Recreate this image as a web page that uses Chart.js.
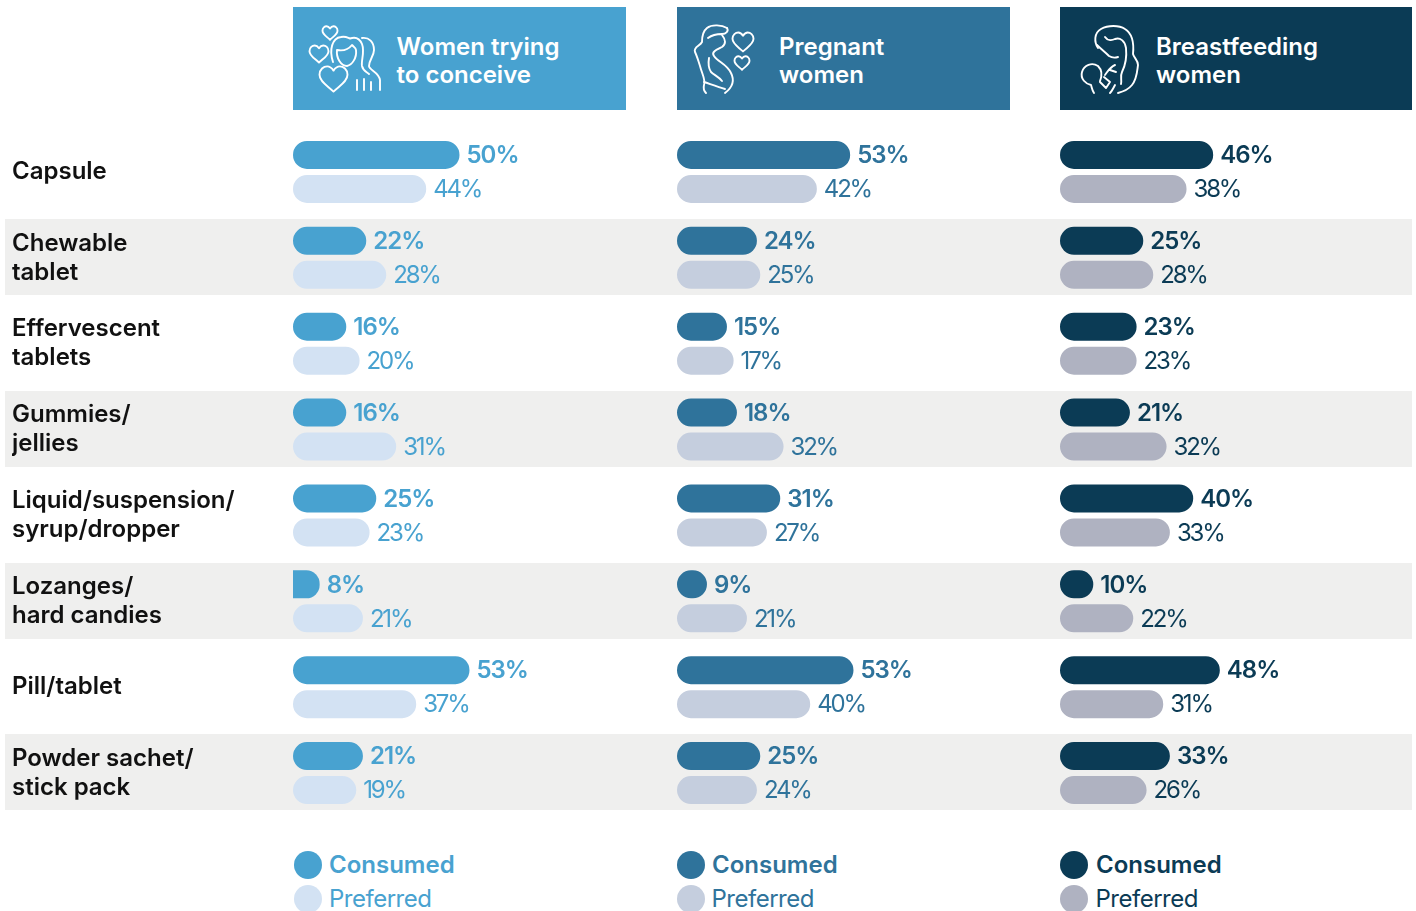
<!DOCTYPE html>
<html>
<head>
<meta charset="utf-8">
<script src="https://cdn.jsdelivr.net/npm/chart.js@4"></script>
<style>
  html, body { margin: 0; padding: 0; background: #fff; }
  body { position: relative; width: 1416px; height: 911px; overflow: hidden; font-family: Inter, sans-serif; }
  .band { position: absolute; left: 5px; width: 1407px; height: 76px; background: #efefee; }
  .head { position: absolute; top: 7px; height: 103px; }
  .head span { position: absolute; top: 26px; color: #fff; font-size: 24px; font-weight: 600; line-height: 28px; white-space: pre; }
  canvas { position: absolute; top: 129px; }
  .dot { position: absolute; width: 28px; height: 28px; border-radius: 50%; }
  .leg { position: absolute; font-size: 24px; line-height: 30px; white-space: nowrap; }
  .leg.pref { letter-spacing: -0.5px; }
  #icons { position: absolute; left: 0; top: 0; }
  #icons path { fill: none; stroke: #fff; stroke-width: 1.9; stroke-linecap: round; stroke-linejoin: round; vector-effect: non-scaling-stroke; }
</style>
</head>
<body>
<div class="band" style="top:219px"></div>
<div class="band" style="top:391px"></div>
<div class="band" style="top:563px"></div>
<div class="band" style="top:734px"></div>

<div class="head" style="left:293px;width:333px;background:#48a2d0"><span style="left:103.5px">Women trying
to conceive</span></div>
<div class="head" style="left:677px;width:333px;background:#2f739b"><span style="left:102px">Pregnant
women</span></div>
<div class="head" style="left:1060px;width:352px;background:#0b3b55"><span style="left:96px">Breastfeeding
women</span></div>

<svg id="icons" width="1416" height="120">
  <!-- women trying to conceive -->
  <path transform="translate(330 33) scale(.75)" d="M0 9C-4 5-10 2-10-3C-10-7-7-9-4.5-9C-2-9-1-7.5 0-6C1-7.5 2-9 4.5-9C7-9 10-7 10-3C10 2 4 5 0 9Z"/>
  <path transform="translate(319 54) scale(.95)" d="M0 9C-4 5-10 2-10-3C-10-7-7-9-4.5-9C-2-9-1-7.5 0-6C1-7.5 2-9 4.5-9C7-9 10-7 10-3C10 2 4 5 0 9Z"/>
  <path transform="translate(333.5 79) scale(1.4)" d="M0 9C-4 5-10 2-10-3C-10-7-7-9-4.5-9C-2-9-1-7.5 0-6C1-7.5 2-9 4.5-9C7-9 10-7 10-3C10 2 4 5 0 9Z"/>
  <path d="M333 62C329 50 332 38 341 37C346 36 348 38 350 38.5C354 37 359 37 362 44C365 52 361 60 362 66C363 71 367 72 369 74"/>
  <path d="M337 50C342 51 348 50 352 45C354 47 356 48 356 50C357 58 352 65 347 66C341 66 336 58 337 50"/>
  <path d="M362 38C369 37 374 42 374 50C374 56 369 60 369 66C369 70 379 72 380 80L380 90"/>
  <path d="M357 80V90M364 79V90M371 82V90"/>
  <!-- pregnant -->
  <path d="M727 28C722 25 712 24 707 28C702 32 702 38 702 42C700 46 693 47 695 52C697 56 698 60 700 66C702 74 706 80 704 85C703 89 704 91 706 93"/>
  <path d="M727 28C729 31 726 34 722 34C717 34 712 35 708 38M722 35C726 40 726 44 722 47C716 50 711 52 714 56C718 62 727 64 731 73C735 81 733 87 725 93"/>
  <path d="M709 58C708 64 709 69 711 72C714 75 719 77 722 81M704 82C710 84 718 87 725 89"/>
  <path transform="translate(743 42) scale(1.05)" d="M0 9C-4 5-10 2-10-3C-10-7-7-9-4.5-9C-2-9-1-7.5 0-6C1-7.5 2-9 4.5-9C7-9 10-7 10-3C10 2 4 5 0 9Z"/>
  <path transform="translate(742 63) scale(.75)" d="M0 9C-4 5-10 2-10-3C-10-7-7-9-4.5-9C-2-9-1-7.5 0-6C1-7.5 2-9 4.5-9C7-9 10-7 10-3C10 2 4 5 0 9Z"/>
  <!-- breastfeeding -->
  <path d="M1098 48C1094 42 1094 33 1101 29C1108 25 1119 25 1125 29C1133 34 1134 44 1133 54C1134 58 1138 60 1138 65C1137 72 1137 79 1132 85C1128 90 1122 92 1118 93"/>
  <path d="M1097 45C1101 49 1105 52 1109 56C1112 58 1115 58 1118 57M1105 37C1107 40 1111 41 1115 39C1120 37 1125 41 1126 48C1127 58 1125 66 1122 72C1120 76 1122 80 1121 84"/>
  <path d="M1098 66C1092 62 1084 65 1082 72C1080 79 1086 84 1091 85C1092 88 1092 90 1094 93M1098 66C1102 70 1102 76 1100 81"/>
  <path d="M1115 65C1110 67 1108 71 1105 75M1110 70L1116 72M1100 82L1106 88L1110 82L1104 77M1115 85C1113 89 1112 91 1110 93"/>
</svg>

<canvas id="chartWomen" width="614" height="687" style="left:12px"></canvas>
<canvas id="chartPregnant" width="333" height="687" style="left:677px"></canvas>
<canvas id="chartBreast" width="352" height="687" style="left:1060px"></canvas>

<div class="dot" style="left:294px;top:851px;background:#48a2d0"></div>
<div class="leg" style="left:329px;top:850px;color:#48a2d0;font-weight:600">Consumed</div>
<div class="dot" style="left:294px;top:885px;background:#d3e2f3"></div>
<div class="leg pref" style="left:329px;top:884px;color:#48a2d0">Preferred</div>
<div class="dot" style="left:677px;top:851px;background:#2f739b"></div>
<div class="leg" style="left:712px;top:850px;color:#2f739b;font-weight:600">Consumed</div>
<div class="dot" style="left:677px;top:885px;background:#c5cede"></div>
<div class="leg pref" style="left:711.5px;top:884px;color:#2f739b">Preferred</div>
<div class="dot" style="left:1060px;top:851px;background:#0b3b55"></div>
<div class="leg" style="left:1096px;top:850px;color:#0b3b55;font-weight:600">Consumed</div>
<div class="dot" style="left:1060px;top:885px;background:#afb2c1"></div>
<div class="leg pref" style="left:1095.5px;top:884px;color:#0b3b55">Preferred</div>

<script>
const categories = [
  "Capsule",
  ["Chewable", "tablet"],
  ["Effervescent", "tablets"],
  ["Gummies/", "jellies"],
  ["Liquid/suspension/", "syrup/dropper"],
  ["Lozanges/", "hard candies"],
  "Pill/tablet",
  ["Powder sachet/", "stick pack"]
];

// bar lengths as measured; a couple differ from the printed figure in the original
const womenConsumed = [50, 22, 16, 16, 25, 8, 53, 21];
const womenPreferred = [40, 28, 20, 31, 23, 21, 37, 19];
const pregnantConsumed = [52, 24, 15, 18, 31, 9, 53, 25];
const pregnantPreferred = [42, 25, 17, 32, 27, 21, 40, 24];
const breastConsumed = [46, 25, 23, 21, 40, 10, 48, 33];
const breastPreferred = [38, 28, 23, 32, 33, 22, 31, 26];

// figures as printed next to the bars
const womenConsumedText = [50, 22, 16, 16, 25, 8, 53, 21];
const womenPreferredText = [44, 28, 20, 31, 23, 21, 37, 19];
const pregnantConsumedText = [53, 24, 15, 18, 31, 9, 53, 25];
const pregnantPreferredText = [42, 25, 17, 32, 27, 21, 40, 24];
const breastConsumedText = [46, 25, 23, 21, 40, 10, 48, 33];
const breastPreferredText = [38, 28, 23, 32, 33, 22, 31, 26];

const FONT = "Inter, sans-serif";

// writes the percentage right after each bar
const valueLabels = {
  id: "valueLabels",
  afterDatasetsDraw(chart, args, opts) {
    const ctx = chart.ctx;
    ctx.save();
    ctx.fillStyle = opts.color;
    ctx.textBaseline = "middle";
    ctx.textAlign = "left";
    chart.data.datasets.forEach((ds, i) => {
      ctx.font = (i === 0 ? "600 " : "400 ") + "24px " + FONT;
      ctx.letterSpacing = i === 0 ? "-1px" : "-2.2px";
      chart.getDatasetMeta(i).data.forEach((bar, j) => {
        ctx.fillText(opts.texts[i][j] + "%", bar.x + 7, bar.y + 1);
      });
    });
    ctx.restore();
  }
};

function pillRadius(c) {
  // the 8% bar is flat on the left in the original
  if (c.raw < 8.5) return { topLeft: 0, bottomLeft: 0, topRight: 14, bottomRight: 14 };
  return 14;
}

function makeChart(id, consumed, preferred, consumedText, preferredText, colors, withCategories) {
  return new Chart(document.getElementById(id), {
    type: "bar",
    data: {
      labels: categories,
      datasets: [
        { label: "Consumed", data: consumed, backgroundColor: colors[0] },
        { label: "Preferred", data: preferred, backgroundColor: colors[1] }
      ]
    },
    options: {
      indexAxis: "y",
      responsive: false,
      animation: false,
      layout: { padding: 0 },
      categoryPercentage: 68 / 86,
      barPercentage: 28 / 34,
      datasets: { bar: { borderRadius: pillRadius, borderSkipped: false, inflateAmount: 0 } },
      plugins: {
        legend: { display: false },
        tooltip: { enabled: false },
        valueLabels: { texts: [consumedText, preferredText], color: colors[2] }
      },
      scales: {
        x: { display: false, min: 0, max: id === "chartBreast" ? 352 / 3.33 : 100 },
        y: {
          display: withCategories,
          grid: { display: false, drawTicks: false },
          border: { display: false },
          afterFit: s => {
            s.width = withCategories ? 281 : 0;
            s.paddingTop = 0;
            s.paddingBottom = 0;
          },
          ticks: {
            autoSkip: false,
            padding: 0,
            maxRotation: 0,
            minRotation: 0,
            crossAlign: "far",
            color: "#111",
            font: { family: FONT, size: 24, weight: "600", lineHeight: 29 / 24 }
          }
        }
      }
    },
    plugins: [valueLabels]
  });
}

makeChart("chartWomen", womenConsumed, womenPreferred, womenConsumedText, womenPreferredText, ["#48a2d0", "#d3e2f3", "#48a2d0"], true);
makeChart("chartPregnant", pregnantConsumed, pregnantPreferred, pregnantConsumedText, pregnantPreferredText, ["#2f739b", "#c5cede", "#2f739b"], false);
makeChart("chartBreast", breastConsumed, breastPreferred, breastConsumedText, breastPreferredText, ["#0b3b55", "#afb2c1", "#0b3b55"], false);
</script>
</body>
</html>
